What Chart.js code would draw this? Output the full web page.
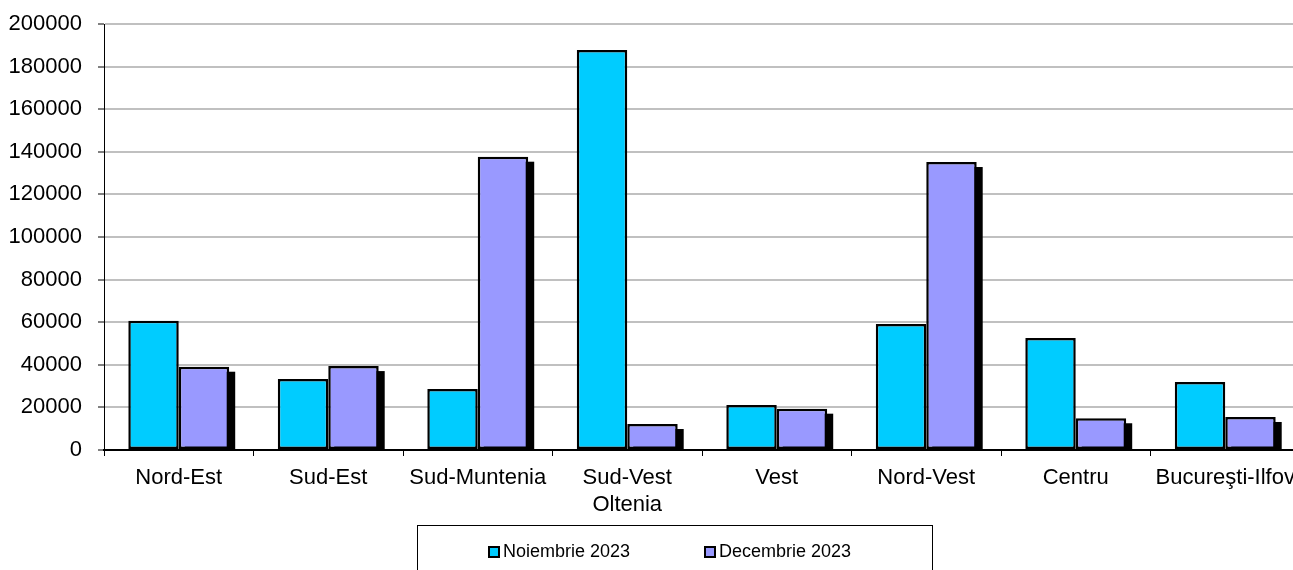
<!DOCTYPE html>
<html>
<head>
<meta charset="utf-8">
<script src="https://cdn.jsdelivr.net/npm/chart.js"></script>
<style>
  html, body { margin: 0; padding: 0; background: #fff; overflow: hidden; }
  #wrap { width: 1342px; height: 600px; }
</style>
</head>
<body>
<div id="wrap"><canvas id="grafic" width="1342" height="600"></canvas></div>
<script>
// date
const regiuni = ['Nord-Est', 'Sud-Est', 'Sud-Muntenia', ['Sud-Vest', 'Oltenia'], 'Vest', 'Nord-Vest', 'Centru', 'Bucureşti-Ilfov'];
const noiembrie2023 = [60700, 33300, 28600, 187800, 21100, 59200, 52600, 31900];
const decembrie2023 = [39100, 39400, 137700, 12200, 19400, 135200, 14900, 15500];
const serii = ['Noiembrie 2023', 'Decembrie 2023'];
const culori = ['#00CCFF', '#9999FF'];
const yMax = 200000;
const yPas = 20000;

const font = '"Liberation Sans", Arial, sans-serif';

// umbra neagra in spatele barelor din a doua serie
const umbra = {
    id: 'umbra',
    beforeDatasetDraw(chart, args) {
        if (args.index !== 1) return;
        const c = chart.ctx;
        const jos = chart.chartArea.bottom;
        c.save();
        c.fillStyle = '#000';
        args.meta.data.forEach(bar => {
            const p = bar.getProps(['x', 'y', 'base', 'width'], true);
            const sus = p.y + 5;
            if (sus < jos) c.fillRect(p.x - p.width / 2 + 6, sus, p.width, jos - sus);
        });
        c.restore();
    }
};

// legenda cu chenar, ca in Excel
const legenda = {
    id: 'legenda',
    afterDraw(chart) {
        const c = chart.ctx;
        c.save();
        c.strokeStyle = '#000';
        c.lineWidth = 1;
        c.strokeRect(417.5, 525.5, 515, 120);
        c.font = '18px ' + font;
        c.textBaseline = 'middle';
        const xs = [488, 704];
        chart.data.datasets.forEach((ds, i) => {
            c.fillStyle = ds.backgroundColor;
            c.fillRect(xs[i], 546, 12, 12);
            c.lineWidth = 2;
            c.strokeRect(xs[i] + 1, 547, 10, 10);
            c.fillStyle = '#000';
            c.fillText(ds.label, xs[i] + 15, 552);
        });
        c.restore();
    }
};

new Chart(document.getElementById('grafic'), {
    type: 'bar',
    data: {
        labels: regiuni,
        datasets: [
            {
                label: serii[0],
                data: noiembrie2023,
                backgroundColor: culori[0],
                borderColor: '#000',
                borderWidth: 2.5,
                borderSkipped: false,
                categoryPercentage: 0.675,
                barPercentage: 1
            },
            {
                label: serii[1],
                data: decembrie2023,
                backgroundColor: culori[1],
                borderColor: '#000',
                borderWidth: 2.5,
                borderSkipped: false,
                categoryPercentage: 0.675,
                barPercentage: 1
            }
        ]
    },
    options: {
        responsive: false,
        animation: false,
        layout: {
            padding: { left: 8, top: 24, right: 42, bottom: 80 }
        },
        plugins: {
            legend: { display: false },
            tooltip: { enabled: false }
        },
        scales: {
            x: {
                grid: {
                    offset: true,
                    drawOnChartArea: false,
                    drawTicks: true,
                    tickLength: 6,
                    color: '#000',
                    lineWidth: 1
                },
                border: { color: '#000', width: 2 },
                ticks: {
                    color: '#000',
                    font: { family: font, size: 22 },
                    padding: 9,
                    maxRotation: 0,
                    autoSkip: false
                },
                afterFit: s => { s.height = 70; s.paddingLeft = 0; s.paddingRight = 0; }
            },
            y: {
                min: 0,
                max: yMax,
                grid: {
                    color: ctx => ctx.tick && ctx.tick.value === 0 ? 'rgba(0,0,0,0)' : '#C0C0C0',
                    lineWidth: 2,
                    tickColor: '#000',
                    tickLength: 6,
                    tickWidth: 1
                },
                border: { color: '#000', width: 1 },
                ticks: {
                    stepSize: yPas,
                    color: '#000',
                    font: { family: font, size: 22 },
                    padding: 16,
                    callback: v => String(v)
                },
                afterFit: s => { s.width = 96; s.paddingTop = 0; s.paddingBottom = 0; }
            }
        }
    },
    plugins: [umbra, legenda]
});
</script>
</body>
</html>
